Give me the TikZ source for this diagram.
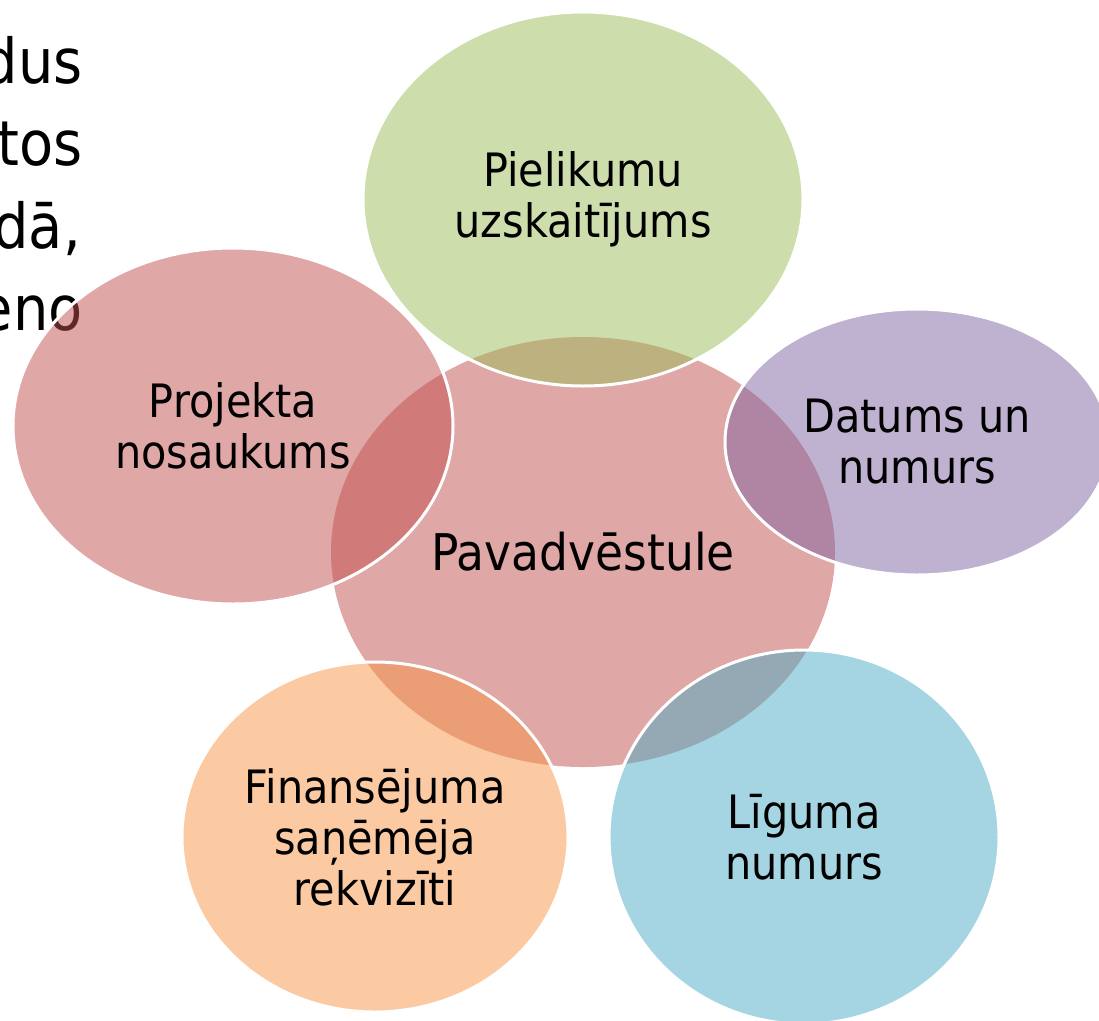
\documentclass[tikz,border=0pt]{standalone}
\usepackage{fontspec}
\setmainfont{DejaVu Sans}[FakeStretch=0.9]
\usepackage{tikz}
\usetikzlibrary{shapes,positioning}
\definecolor{accred}{HTML}{C0504D}
\definecolor{accgreen}{HTML}{9BBB59}
\definecolor{accpurple}{HTML}{8064A2}
\definecolor{accblue}{HTML}{4BACC6}
\definecolor{accorange}{HTML}{F79646}
\tikzset{
    raw venn entry/.style={ellipse, inner sep=0pt, align=center, text=black, text opacity=1, fill opacity=0.5},
    core entry/.style={raw venn entry, fill=accred, font=\fontsize{50.6}{56}\selectfont},
    part entry/.style={raw venn entry, draw=white, line width=3pt, font=\fontsize{46}{51}\selectfont},
    p1/.style={part entry, fill=accgreen},
    p2/.style={part entry, fill=accpurple},
    p3/.style={part entry, fill=accblue},
    p4/.style={part entry, fill=accorange},
    p5/.style={part entry, fill=accred},
    slide text/.style={anchor=base east, inner sep=0pt, font=\fontsize{62}{83}\selectfont}
}

\begin{document}
\begin{tikzpicture}[x=1pt,y=-1pt]
		\useasboundingbox (0,0) rectangle (1099,1020);
		\clip (0,0) rectangle (1099,1020);
		% text of the slide behind the diagram
		\node[slide text] (line1) at (83,83) {dus};
		\node[slide text] (line2) at (83,165) {tos};
		\node[slide text] (line3) at (81,248) {dā,};
		\node[slide text] (line4) at (83,330) {eno};
		% centre
		\node[core entry, minimum width=504pt, minimum height=430pt] (letter) at (583,552) {Pavadvēstule};
		% parts round it
		\node[p1, minimum width=440pt, minimum height=374pt] (annex) at (583,199) {Pielikumu\\uzskaitījums};
		\node[p2, minimum width=384pt, minimum height=266pt] (date) at (917,442) {Datums un\\numurs};
		\node[p3, minimum width=390pt, minimum height=374pt] (contract) at (804,837) {Līguma\\numurs};
		\node[p4, minimum width=386pt, minimum height=350pt] (payee) at (375,837) {Finansējuma\\saņēmēja\\rekvizīti};
		\node[p5, minimum width=440pt, minimum height=356pt] (project) at (233,426) {Projekta\\nosaukums};
	\end{tikzpicture}
\end{document}
